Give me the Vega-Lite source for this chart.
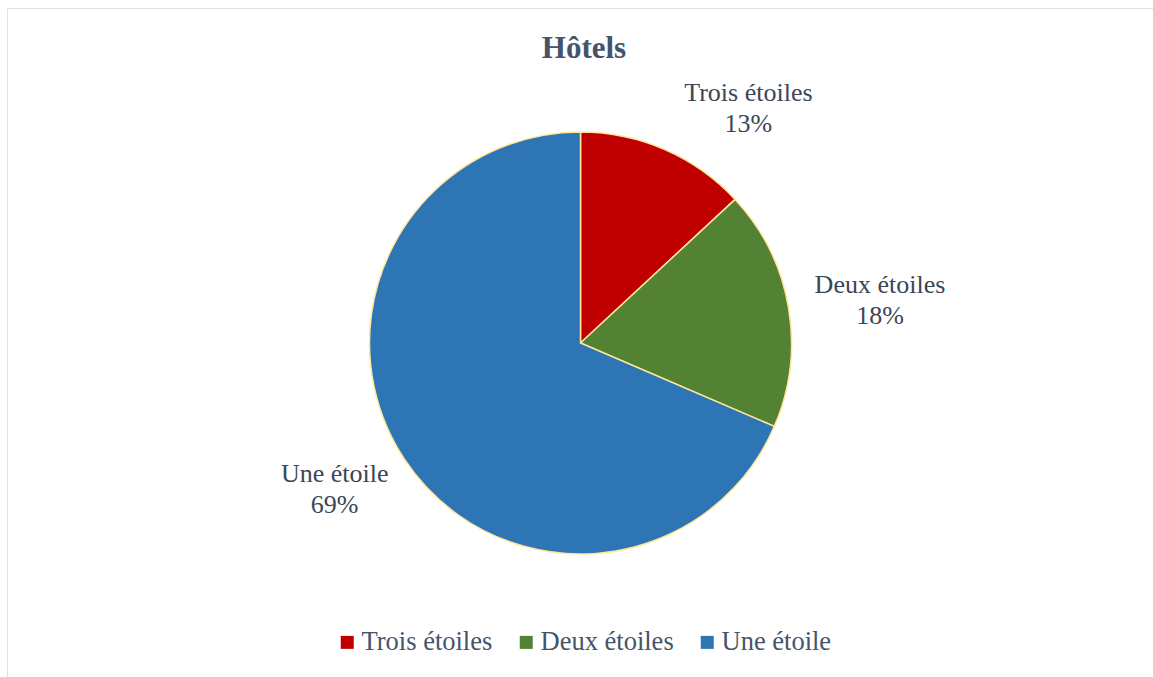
{
  "$schema": "https://vega.github.io/schema/vega-lite/v6.json",
  "autosize": "none",
  "width": 1147,
  "height": 670,
  "padding": {"left": 7, "top": 8, "right": 0, "bottom": 0},
  "background": "white",
  "view": {"stroke": "#DDE1E6", "strokeWidth": 1},
  "config": {
    "view": {"stroke": "#DDE1E6", "strokeWidth": 1},
    "font": "Liberation Serif"
  },
  "title": {
    "text": "Hôtels",
    "font": "Liberation Serif",
    "fontSize": 31,
    "fontWeight": "bold",
    "color": "#44546A",
    "anchor": "middle",
    "frame": "group",
    "baseline": "alphabetic",
    "offset": -50,
    "dx": 3.5,
    "dy": 31
  },
  "data": {
    "values": [
      {"rang": 1, "categorie": "Trois étoiles", "part": 0.131},
      {"rang": 2, "categorie": "Deux étoiles", "part": 0.184},
      {"rang": 3, "categorie": "Une étoile", "part": 0.686}
    ]
  },
  "encoding": {
    "theta": {"field": "part", "type": "quantitative", "stack": true},
    "order": {"field": "rang", "type": "ordinal"},
    "detail": {"field": "categorie", "type": "nominal"}
  },
  "layer": [
    {
      "mark": {"type": "arc", "outerRadius": 211, "stroke": "#FFE699", "strokeWidth": 1.5},
      "encoding": {
        "color": {
          "field": "categorie",
          "type": "nominal",
          "scale": {
            "domain": ["Trois étoiles", "Deux étoiles", "Une étoile"],
            "range": ["#C00000", "#548235", "#2E75B6"]
          },
          "legend": {
            "title": null,
            "orient": "none",
            "legendX": 327,
            "legendY": 621,
            "direction": "horizontal",
            "padding": 0,
            "labelFont": "Liberation Serif",
            "labelFontSize": 26.5,
            "labelColor": "#44546A",
            "symbolType": "square",
            "symbolSize": 169,
            "symbolStrokeWidth": 0,
            "symbolOpacity": 1,
            "columnPadding": 20,
            "labelOffset": 1
          }
        }
      }
    },
    {
      "mark": {"type": "text", "radius": 290, "dx": 52, "dy": 24.2, "baseline": "alphabetic", "align": "center", "fontSize": 26, "font": "Liberation Serif", "color": "#3B4656"},
      "encoding": {"text": {"condition": {"test": "datum.categorie === 'Trois étoiles'", "field": "categorie"}, "value": ""}}
    },
    {
      "mark": {"type": "text", "radius": 290, "dx": 52, "dy": 55.2, "baseline": "alphabetic", "align": "center", "fontSize": 26, "font": "Liberation Serif", "color": "#3B4656"},
      "encoding": {"text": {"condition": {"test": "datum.categorie === 'Trois étoiles'", "field": "part", "format": ".0%"}, "value": ""}}
    },
    {
      "mark": {"type": "text", "radius": 290, "dx": 13.7, "dy": -0.5, "baseline": "alphabetic", "align": "center", "fontSize": 26, "font": "Liberation Serif", "color": "#3B4656"},
      "encoding": {"text": {"condition": {"test": "datum.categorie === 'Deux étoiles'", "field": "categorie"}, "value": ""}}
    },
    {
      "mark": {"type": "text", "radius": 290, "dx": 13.7, "dy": 30.5, "baseline": "alphabetic", "align": "center", "fontSize": 26, "font": "Liberation Serif", "color": "#3B4656"},
      "encoding": {"text": {"condition": {"test": "datum.categorie === 'Deux étoiles'", "field": "part", "format": ".0%"}, "value": ""}}
    },
    {
      "mark": {"type": "text", "radius": 290, "dx": -3.6, "dy": -20.7, "baseline": "alphabetic", "align": "center", "fontSize": 26, "font": "Liberation Serif", "color": "#3B4656"},
      "encoding": {"text": {"condition": {"test": "datum.categorie === 'Une étoile'", "field": "categorie"}, "value": ""}}
    },
    {
      "mark": {"type": "text", "radius": 290, "dx": -3.6, "dy": 10.3, "baseline": "alphabetic", "align": "center", "fontSize": 26, "font": "Liberation Serif", "color": "#3B4656"},
      "encoding": {"text": {"condition": {"test": "datum.categorie === 'Une étoile'", "field": "part", "format": ".0%"}, "value": ""}}
    }
  ]
}
